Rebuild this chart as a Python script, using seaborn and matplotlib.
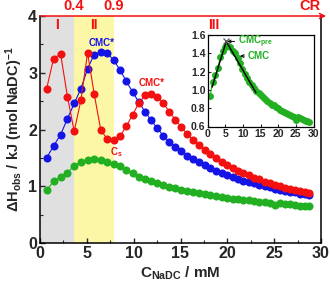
import matplotlib
matplotlib.use("Agg")
import matplotlib.pyplot as plt
import seaborn as sns
import pandas as pd

sns.set_theme(style="ticks")
plt.rcParams["font.family"] = ["Liberation Sans", "DejaVu Sans"]
plt.rcParams["font.weight"] = "bold"
plt.rcParams["mathtext.fontset"] = "custom"
plt.rcParams["mathtext.rm"] = "Liberation Sans:bold"
plt.rcParams["mathtext.it"] = "Liberation Sans:bold"
plt.rcParams["mathtext.bf"] = "Liberation Sans:bold"

# ---- data ----
conc = [0.71, 1.45, 2.20, 2.93, 3.65, 4.37, 5.08, 5.78, 6.48, 7.17, 7.86, 8.54,
        9.22, 9.89, 10.56, 11.22, 11.88, 12.53, 13.18, 13.82, 14.46, 15.09, 15.72,
        16.34, 16.96, 17.57, 18.18, 18.78, 19.38, 19.97, 20.56, 21.14, 21.72, 22.29,
        22.86, 23.42, 23.98, 24.53, 25.08, 25.62, 26.16, 26.69, 27.22, 27.74, 28.26,
        28.77]
dh_blue = [1.50, 1.71, 1.91, 2.19, 2.46, 2.72, 3.07, 3.32, 3.37, 3.35, 3.22, 3.05,
           2.85, 2.66, 2.48, 2.31, 2.16, 2.02, 1.89, 1.78, 1.70, 1.62, 1.54, 1.48,
           1.42, 1.37, 1.32, 1.27, 1.23, 1.19, 1.16, 1.13, 1.10, 1.07, 1.05, 1.02,
           1.00, 0.98, 0.96, 0.94, 0.92, 0.90, 0.89, 0.87, 0.86, 0.84]
dh_red = [2.72, 3.25, 3.33, 2.58, 1.97, 2.52, 3.35, 2.63, 2.00, 1.83, 1.82, 1.88,
          2.06, 2.26, 2.47, 2.60, 2.63, 2.58, 2.46, 2.31, 2.17, 2.04, 1.92, 1.82,
          1.73, 1.64, 1.57, 1.50, 1.43, 1.37, 1.32, 1.27, 1.23, 1.19, 1.15, 1.12,
          1.08, 1.05, 1.02, 1.00, 0.97, 0.95, 0.93, 0.91, 0.89, 0.88]
dh_green = [0.93, 1.09, 1.16, 1.24, 1.36, 1.43, 1.47, 1.48, 1.47, 1.43, 1.40, 1.35,
            1.29, 1.23, 1.17, 1.13, 1.09, 1.05, 1.02, 0.99, 0.97, 0.94, 0.92, 0.90,
            0.88, 0.86, 0.84, 0.83, 0.81, 0.80, 0.78, 0.77, 0.76, 0.75, 0.74, 0.73,
            0.72, 0.70, 0.67, 0.70, 0.69, 0.68, 0.67, 0.66, 0.66, 0.65]

region_bounds = [0.0, 3.6, 7.9]
region_labels = ["I", "II", "III"]
region_label_x = [1.8, 5.75, 18.5]
top_labels = ["0.4", "0.9", "CR"]
top_label_x = [3.6, 7.9, 28.8]

fit1_x = [1.3, 5.3]
fit1_y = [1.03, 1.53]
fit2_x = [5.3, 13.7]
fit2_y = [1.53, 0.97]

RED = "#f21010"
BLUE = "#1414e6"
GREEN = "#22b022"

df = pd.DataFrame({"c": conc, "blue": dh_blue, "red": dh_red, "green": dh_green})

fig = plt.figure(figsize=(3.30, 2.86), dpi=100)
ax = fig.add_axes([40/330, 1-243/286, 281/330, 227/286])

ax.axvspan(region_bounds[0], region_bounds[1], color="#e0e0e0", lw=0, zorder=0)
ax.axvspan(region_bounds[1], region_bounds[2], color="#fbf7a6", lw=0, zorder=0)

sns.lineplot(data=df, x="c", y="green", ax=ax, color=GREEN, marker="o",
             markersize=5.8, markeredgewidth=0, lw=0.8, estimator=None, zorder=3)
sns.lineplot(data=df, x="c", y="red", ax=ax, color=RED, marker="o",
             markersize=5.8, markeredgewidth=0, lw=0.8, estimator=None, zorder=4)
sns.lineplot(data=df, x="c", y="blue", ax=ax, color=BLUE, marker="o",
             markersize=5.8, markeredgewidth=0, lw=0.8, estimator=None, zorder=3)

ax.set_xlim(0, 30)
ax.set_ylim(0, 4)
ax.set_xticks([0, 5, 10, 15, 20, 25, 30])
ax.set_yticks([0, 1, 2, 3, 4])
ax.set_xticks([2.5, 7.5, 12.5, 17.5, 22.5, 27.5], minor=True)
ax.set_yticks([0.5, 1.5, 2.5, 3.5], minor=True)
ax.tick_params(axis="both", which="major", direction="in", length=3.5, width=1,
               labelsize=11.5, pad=2, top=False, right=False)
ax.tick_params(axis="both", which="minor", direction="in", length=2, width=0.8,
               top=False, right=False)
for lab in ax.get_xticklabels() + ax.get_yticklabels():
    lab.set_fontweight("bold")
for s in ["left", "bottom", "right"]:
    ax.spines[s].set_linewidth(1.1)
    ax.spines[s].set_color("black")
ax.spines["top"].set_visible(False)

ax.set_xlabel(r"C$_{NaDC}$ / mM", fontsize=11, fontweight="bold", labelpad=3)
ax.set_ylabel(r"$\Delta$H$_{obs}$ / kJ (mol NaDC)$^{-1}$", fontsize=10.5,
              fontweight="bold", labelpad=2)

# top red arrow
ax.annotate("", xy=(30.55, 4), xytext=(0, 4), xycoords="data",
            arrowprops=dict(arrowstyle="->", color=RED, lw=1.1,
                            shrinkA=0, shrinkB=0, mutation_scale=9),
            annotation_clip=False)
for t, xx in zip(top_labels, top_label_x):
    ax.text(xx, 4.05, t, color=RED, fontsize=10.5, fontweight="bold",
            ha="center", va="bottom", clip_on=False)
for t, xx in zip(region_labels, region_label_x):
    ax.text(xx, 3.84, t, color=RED, fontsize=10, fontweight="bold",
            ha="center", va="center")

ax.text(6.6, 3.53, "CMC*", color=BLUE, fontsize=7, fontweight="bold",
        ha="center", va="center")
ax.text(11.9, 2.82, "CMC*", color=RED, fontsize=7, fontweight="bold",
        ha="center", va="center")
ax.text(8.2, 1.6, r"C$_s$", color=RED, fontsize=7, fontweight="bold",
        ha="center", va="center")

# inset
ins = fig.add_axes([207.5/330, 1-126.5/286, 106/330, 91.5/286])
sns.lineplot(data=df, x="c", y="green", ax=ins, color=GREEN, marker="o",
             markersize=5, markeredgewidth=0, lw=0.8, estimator=None, zorder=2)
ins.plot(fit1_x, fit1_y, color="black", lw=1, zorder=3)
ins.plot(fit2_x, fit2_y, color="black", lw=1, zorder=3)
ins.plot([fit1_x[1]], [fit1_y[1]], marker="x", color="#555555", ms=5, mew=0.9, zorder=4)
ins.annotate(r"CMC$_{pre}$", xy=(5.6, 1.53), xytext=(8.6, 1.53),
             color=GREEN, fontsize=7, fontweight="bold", va="center", ha="left",
             arrowprops=dict(arrowstyle="->", color="black", lw=0.7,
                             shrinkA=0, shrinkB=0, mutation_scale=5))
ins.annotate("CMC", xy=(9.2, 1.37), xytext=(11.4, 1.37),
             color=GREEN, fontsize=7, fontweight="bold", va="center", ha="left",
             arrowprops=dict(arrowstyle="->", color="black", lw=0.7,
                             shrinkA=0, shrinkB=0, mutation_scale=5))
ins.set_xlim(0, 30)
ins.set_ylim(0.6, 1.6)
ins.set_xticks([0, 5, 10, 15, 20, 25, 30])
ins.set_yticks([0.6, 0.8, 1.0, 1.2, 1.4, 1.6])
ins.set_yticklabels(["0.6", "0.8", "1.0", "1.2", "1.4", "1.6"])
ins.tick_params(axis="both", which="major", direction="in", length=2.5, width=0.8,
                labelsize=7.5, pad=1.5)
for lab in ins.get_xticklabels() + ins.get_yticklabels():
    lab.set_fontweight("bold")
for s in ins.spines.values():
    s.set_linewidth(0.9)
    s.set_color("black")
ins.set_xlabel("")
ins.set_ylabel("")

fig.savefig("out.png", dpi=100)
